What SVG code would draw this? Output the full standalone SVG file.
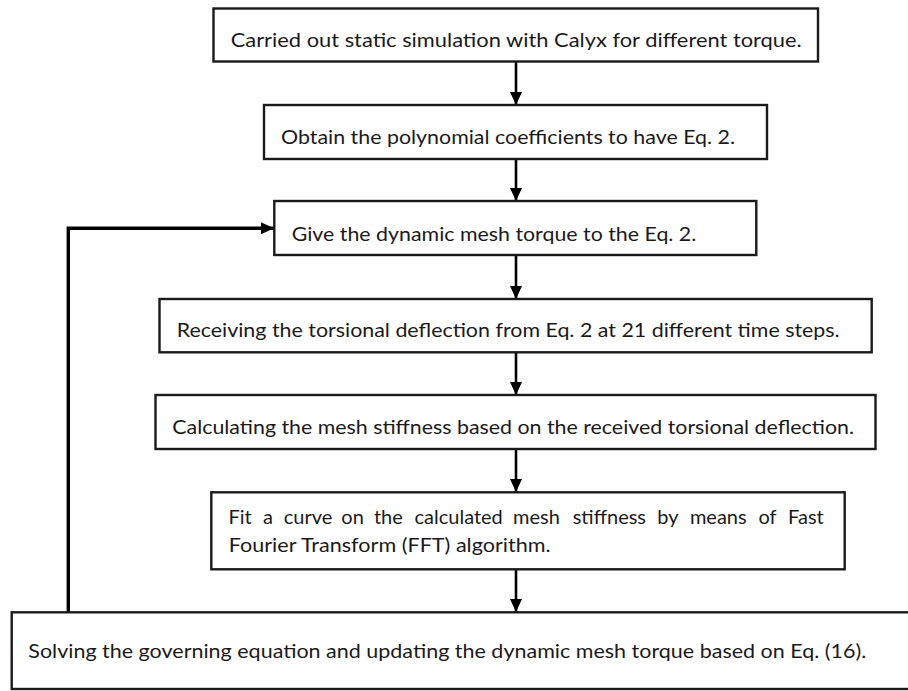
<svg xmlns="http://www.w3.org/2000/svg" width="908" height="691" viewBox="0 0 908 691">
<style>
.box{fill:#fff;stroke:#1a1a1a;stroke-width:2.4}
.t{font-family:Lato,"Open Sans","Liberation Sans",sans-serif;font-size:20px;fill:#1a1a1a}
.c{fill:none;stroke:#000;stroke-width:2.6}
.loop{fill:none;stroke:#000;stroke-width:3.4}
</style>
<defs>
<marker id="ah" markerUnits="userSpaceOnUse" markerWidth="13" markerHeight="12" refX="13" refY="6" orient="auto">
<path d="M0,0 L13,6 L0,12 z" fill="#000"/>
</marker>
</defs>
<rect width="908" height="691" fill="#fff"/>
<g id="connectors">
<line class="c" x1="516" y1="62" x2="516" y2="105" marker-end="url(#ah)"/>
<line class="c" x1="516" y1="159" x2="516" y2="201" marker-end="url(#ah)"/>
<line class="c" x1="516" y1="255" x2="516" y2="299" marker-end="url(#ah)"/>
<line class="c" x1="516" y1="352" x2="516" y2="395" marker-end="url(#ah)"/>
<line class="c" x1="516" y1="449" x2="516" y2="492" marker-end="url(#ah)"/>
<line class="c" x1="516" y1="569" x2="516" y2="612" marker-end="url(#ah)"/>
<polyline class="loop" points="68.3,612 68.3,228.3 274,228.3" marker-end="url(#ah)"/>
</g>
<g id="n1">
<rect class="box" x="213.5" y="8.5" width="604.5" height="53"/>
<text class="t" x="230.7" y="47.3" textLength="571" lengthAdjust="spacingAndGlyphs">Carried out static simulation with Calyx for different torque.</text>
</g>
<g id="n2">
<rect class="box" x="264" y="105" width="503" height="54"/>
<text class="t" x="281" y="143.7" textLength="454" lengthAdjust="spacingAndGlyphs">Obtain the polynomial coefficients to have Eq. 2.</text>
</g>
<g id="n3">
<rect class="box" x="274.3" y="201" width="482" height="54"/>
<text class="t" x="291.7" y="240.7" textLength="404.6" lengthAdjust="spacingAndGlyphs">Give the dynamic mesh torque to the Eq. 2.</text>
</g>
<g id="n4">
<rect class="box" x="159.5" y="299" width="712.2" height="53.3"/>
<text class="t" x="176.7" y="337.3" textLength="663" lengthAdjust="spacingAndGlyphs">Receiving the torsional deflection from Eq. 2 at 21 different time steps.</text>
</g>
<g id="n5">
<rect class="box" x="155.5" y="395" width="720" height="54"/>
<text class="t" x="172.3" y="434" textLength="681.7" lengthAdjust="spacingAndGlyphs">Calculating the mesh stiffness based on the received torsional deflection.</text>
</g>
<g id="n6">
<rect class="box" x="211.3" y="492.3" width="633.4" height="77"/>
<text class="t" y="524"><tspan x="228.5">Fit</tspan><tspan x="263.1">a</tspan><tspan x="283.7">curve</tspan><tspan x="341.3">on</tspan><tspan x="373.9">the</tspan><tspan x="414.5">calculated</tspan><tspan x="513.1">mesh</tspan><tspan x="572.7">stiffness</tspan><tspan x="657.3">by</tspan><tspan x="689.9">means</tspan><tspan x="758.5">of</tspan><tspan x="788.1">Fast</tspan></text>
<text class="t" x="228.7" y="552.3" textLength="322" lengthAdjust="spacingAndGlyphs">Fourier Transform (FFT) algorithm.</text>
</g>
<g id="n7">
<rect class="box" x="11.7" y="612.3" width="905" height="76.7"/>
<text class="t" x="28.3" y="658.3" textLength="838" lengthAdjust="spacingAndGlyphs">Solving the governing equation and updating the dynamic mesh torque based on Eq. (16).</text>
</g>
</svg>
